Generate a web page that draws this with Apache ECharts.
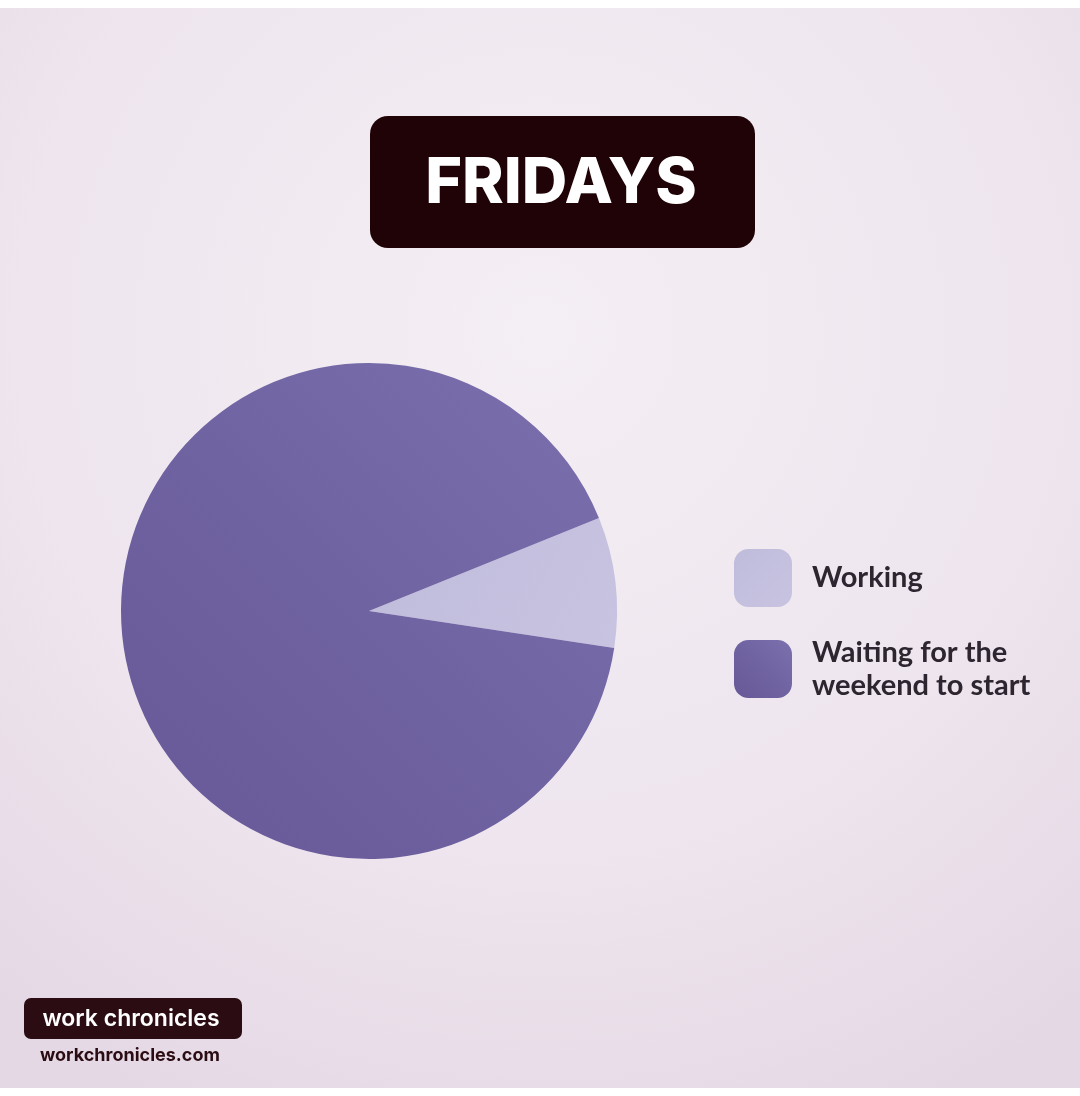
<!DOCTYPE html>
<html>
<head>
<meta charset="utf-8">
<script src="https://cdn.jsdelivr.net/npm/echarts@6/dist/echarts.min.js"></script>
<style>
html,body{margin:0;padding:0;background:#ffffff;}
#chart{width:1080px;height:1096px;}
</style>
</head>
<body>
<div id="chart"></div>
<script>
const titleText = 'FRIDAYS';
const categories = ['Working', 'Waiting for the weekend to start'];
const legendLabels = ['Working', 'Waiting for the\nweekend to start'];
const values = [8.5, 91.5];
const brandName = 'work chronicles';
const brandUrl = 'workchronicles.com';

const workingColor = {type: 'linear', x: 0, y: 0, x2: 1, y2: 1,
  colorStops: [{offset: 0, color: '#bfbcdb'}, {offset: 1, color: '#c8c3e1'}]};
const waitingColor = {type: 'linear', x: 1, y: 0, x2: 0, y2: 1,
  colorStops: [{offset: 0, color: '#7b70ad'}, {offset: 0.5, color: '#7063a2'}, {offset: 1, color: '#675897'}]};
const colors = [workingColor, waitingColor];

const chart = echarts.init(document.getElementById('chart'), null, {renderer: 'canvas'});
const option = {
  backgroundColor: '#ffffff',
  animation: false,
  graphic: [
    {type: 'rect', z: -10, shape: {x: 0, y: 8, width: 1080, height: 1080},
     style: {fill: {type: 'radial', x: 0.5, y: 0.3, r: 0.8,
       colorStops: [{offset: 0, color: '#f4eff4'}, {offset: 0.6, color: '#eee5ee'}, {offset: 1, color: '#e4d8e4'}]}}},
    {type: 'rect', shape: {x: 370, y: 116, width: 385, height: 132, r: 18}, style: {fill: '#1f0307'}},
    {type: 'text', x: 561, y: 184, style: {text: titleText, fill: '#ffffff', font: '800 63px Inter', align: 'center', verticalAlign: 'middle'}},
    {type: 'rect', shape: {x: 24, y: 998, width: 218, height: 41, r: 7}, style: {fill: '#2a0c12'}},
    {type: 'text', x: 131, y: 1019, style: {text: brandName, fill: '#ffffff', font: '600 23px Inter', align: 'center', verticalAlign: 'middle'}},
    {type: 'text', x: 40, y: 1056, style: {text: brandUrl, fill: '#2a0c12', font: '700 18px Inter', align: 'left', verticalAlign: 'middle'}}
  ],
  legend: {
    orient: 'vertical',
    left: 734,
    top: 549,
    padding: 0,
    itemWidth: 58,
    itemHeight: 58,
    itemGap: 29,
    icon: 'roundRect',
    selectedMode: false,
    formatter: function (name) { return legendLabels[categories.indexOf(name)]; },
    textStyle: {fontFamily: 'Lato', fontWeight: 'bold', fontSize: 29, color: '#2d2530', lineHeight: 33, padding: [0, 0, 0, 15]},
    data: categories
  },
  series: [{
    type: 'pie',
    center: [369, 611],
    radius: [0, 248],
    startAngle: 22,
    clockwise: true,
    label: {show: false},
    labelLine: {show: false},
    emphasis: {disabled: true},
    itemStyle: {borderWidth: 0},
    data: categories.map((c, i) => ({name: c, value: values[i], itemStyle: {color: colors[i]}}))
  }]
};
chart.setOption(option);
</script>
</body>
</html>
